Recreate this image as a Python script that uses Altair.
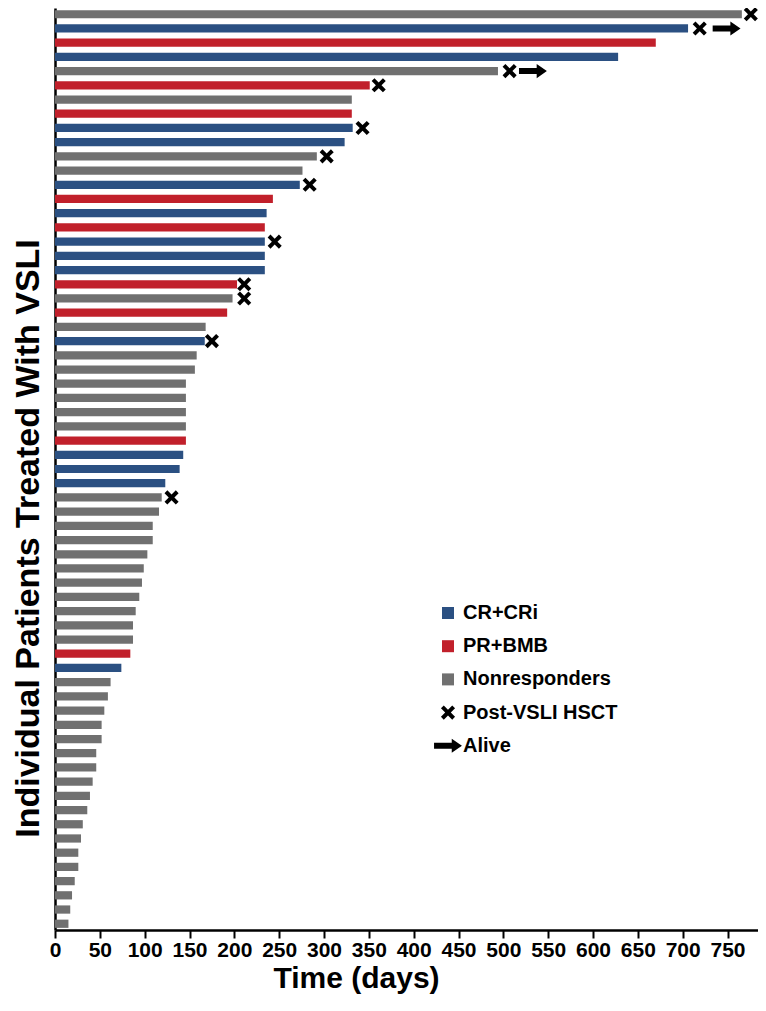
import altair as alt
import pandas as pd

# Response category for each patient (top to bottom): C = CR+CRi, P = PR+BMB, N = Nonresponders
response_codes = [
    "N", "C", "P", "C", "N", "P", "N", "P", "C", "C",
    "N", "N", "C", "P", "C", "P", "C", "C", "C", "P",
    "N", "P", "N", "C", "N", "N", "N", "N", "N", "N",
    "P", "C", "C", "C", "N", "N", "N", "N", "N", "N",
    "N", "N", "N", "N", "N", "P", "C", "N", "N", "N",
    "N", "N", "N", "N", "N", "N", "N", "N", "N", "N",
    "N", "N", "N", "N", "N",
]
# Duration of follow-up in days
days = [
    766, 706, 670, 628, 494, 351, 331, 331, 332, 323,
    292, 276, 273, 243, 236, 234, 234, 234, 234, 203,
    198, 192, 168, 167, 158, 156, 146, 146, 146, 146,
    146, 143, 139, 123, 119, 116, 109, 109, 103, 99,
    97, 94, 90, 87, 87, 84, 74, 62, 59, 55,
    52, 52, 46, 46, 42, 39, 36, 31, 29, 26,
    26, 22, 19, 17, 15,
]
# Post-VSLI HSCT markers (patient index, day)
hsct_patients = [0, 1, 4, 5, 8, 10, 12, 16, 19, 20, 23, 34]
hsct_days = [776, 719, 507, 361, 343, 303, 284, 245, 211, 211, 175, 130]
# Alive markers (patient index, day)
alive_patients = [1, 4]
alive_days = [749, 533]

x_ticks = list(range(0, 751, 50))
names = {"C": "CR+CRi", "P": "PR+BMB", "N": "Nonresponders"}
legend_order = ["CR+CRi", "PR+BMB", "Nonresponders", "Post-VSLI HSCT", "Alive"]
colors = ["#2b5082", "#c1202b", "#707070", "#000000", "#000000"]

SQ = "M-0.4,-0.4H0.4V0.4H-0.4Z"
k = 0.47
xpts = [(-1, -0.6), (-0.6, -1), (0, -0.4), (0.6, -1), (1, -0.6), (0.4, 0),
        (1, 0.6), (0.6, 1), (0, 0.4), (-0.6, 1), (-1, 0.6), (-0.4, 0)]
XP = "M" + "L".join(f"{a*k:.3f},{b*k:.3f}" for a, b in xpts) + "Z"
AR = "M-0.93,-0.2L0.25,-0.2L0.25,-0.47L0.93,0L0.25,0.47L0.25,0.2L-0.93,0.2Z"
shapes = [SQ, SQ, SQ, XP, AR]

bars = pd.DataFrame({
    "pid": list(range(len(days))),
    "days": days,
    "cat": [names[c] for c in response_codes],
})
marks = pd.DataFrame({
    "pid": hsct_patients + alive_patients,
    "days": hsct_days + alive_days,
    "cat": ["Post-VSLI HSCT"] * len(hsct_patients) + ["Alive"] * len(alive_patients),
})

FONT = "Liberation Sans"

xscale = alt.Scale(domain=[0, 784], nice=False, zero=True)
yenc = alt.Y("pid:O",
             scale=alt.Scale(paddingInner=0.42, paddingOuter=0.15),
             axis=alt.Axis(labels=False, ticks=False,
                           title="Individual Patients Treated With VSLI",
                           titleFontSize=34, titleFont=FONT, titleFontWeight="bold",
                           titleColor="black", titleAngle=270, titleX=-17, titleY=530,
                           titleAlign="center", titleBaseline="alphabetic",
                           domainColor="black", domainWidth=2.5))
color = alt.Color("cat:N",
                  scale=alt.Scale(domain=legend_order, range=colors),
                  legend=alt.Legend(title=None, orient="none", legendX=378, legendY=590,
                                    symbolSize=900, labelFont=FONT, labelFontSize=20,
                                    labelFontWeight="bold", labelColor="black",
                                    rowPadding=8.2, labelOffset=0, padding=0,
                                    symbolStrokeWidth=0))

bar_layer = alt.Chart(bars).mark_bar(cornerRadius=0).encode(
    x=alt.X("days:Q", scale=xscale,
            axis=alt.Axis(values=x_ticks, title="Time (days)", grid=False,
                          labelFont=FONT, labelFontSize=21, labelFontWeight="bold",
                          labelColor="black", labelPadding=1, labelFlush=False,
                          tickColor="black", tickWidth=2, tickSize=8,
                          domainColor="black", domainWidth=2.5,
                          titleFont=FONT, titleFontSize=30, titleFontWeight="bold",
                          titleColor="black", titleX=301, titleY=57,
                          titleAnchor="middle", titleBaseline="alphabetic")),
    y=yenc,
    color=color,
)

marker_layer = alt.Chart(marks).mark_point(filled=True, opacity=1, size=900).encode(
    x=alt.X("days:Q", scale=xscale),
    y=alt.Y("pid:O"),
    color=color,
    shape=alt.Shape("cat:N", scale=alt.Scale(domain=legend_order, range=shapes), legend=alt.Legend(title=None)),
)

chart = alt.layer(bar_layer, marker_layer).properties(
    width=703, height=922,
    autosize=alt.AutoSizeParams(type="none"),
    padding={"left": 47, "top": 0, "right": 0, "bottom": 72},
).configure_view(stroke=None).configure_axis(grid=False)

chart.save("out.html", embed_options={"renderer": "svg", "actions": False})
